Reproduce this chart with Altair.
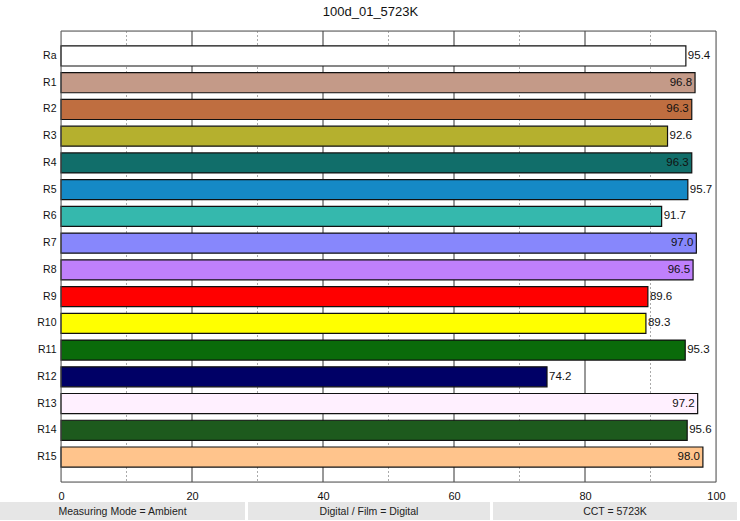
import altair as alt
import pandas as pd

title_text = "100d_01_5723K"
categories = ["Ra", "R1", "R2", "R3", "R4", "R5", "R6", "R7", "R8", "R9",
              "R10", "R11", "R12", "R13", "R14", "R15"]
values = [95.4, 96.8, 96.3, 92.6, 96.3, 95.7, 91.7, 97.0, 96.5, 89.6,
          89.3, 95.3, 74.2, 97.2, 95.6, 98.0]
colors = ["#ffffff", "#c49a88", "#bf6e40", "#b5b02e", "#116e6a", "#1589c6",
          "#35b8ad", "#8787fc", "#bf80fc", "#ff0000", "#ffff00", "#0a6b0a",
          "#000066", "#fff0ff", "#1d5a1d", "#ffc48c"]
major_grid = [20, 40, 60, 80]
minor_grid = [10, 30, 50, 70, 90]
footer_labels = ["Measuring Mode = Ambient", "Digital / Film = Digital", "CCT = 5723K"]

FONT = "Liberation Sans"

df = pd.DataFrame({"cat": categories, "val": values, "color": colors})
df["label"] = df["val"].map(lambda v: f"{v:.1f}")
df["inside"] = df["val"] > 96

yscale = alt.Scale(domain=categories, paddingInner=0.25, paddingOuter=0.56)
xscale = alt.Scale(domain=[0, 100], nice=False)

base = alt.Chart(df)

minor = alt.Chart(pd.DataFrame({"g": minor_grid})).mark_rule(
    color="#aaaaaa", strokeWidth=1, strokeDash=[2, 2]
).encode(x=alt.X("g:Q", scale=xscale))

major = alt.Chart(pd.DataFrame({"g": major_grid})).mark_rule(
    color="#333333", strokeWidth=1
).encode(x=alt.X("g:Q", scale=xscale))

bars = base.mark_bar(stroke="#111111", strokeWidth=1.2).encode(
    x=alt.X("val:Q", scale=xscale,
            axis=alt.Axis(values=[0, 20, 40, 60, 80, 100], title=None, grid=False,
                          ticks=False, domain=False, labelPadding=8, labelFlush=False,
                          labelFontSize=11, labelColor="#111111", labelFont=FONT)),
    y=alt.Y("cat:N", scale=yscale, sort=categories,
            axis=alt.Axis(title=None, ticks=False, domain=False, labelPadding=5,
                          labelFontSize=10.5, labelColor="#111111", labelFont=FONT)),
    color=alt.Color("color:N", scale=None),
)

text_in = base.transform_filter("datum.inside").mark_text(
    align="right", baseline="middle", dx=-3, fontSize=11.5, font=FONT, color="#111111"
).encode(x=alt.X("val:Q", scale=xscale), y=alt.Y("cat:N", scale=yscale, sort=categories),
         text="label:N")

text_out = base.transform_filter("!datum.inside").mark_text(
    align="left", baseline="middle", dx=2, fontSize=11.5, font=FONT, color="#111111"
).encode(x=alt.X("val:Q", scale=xscale), y=alt.Y("cat:N", scale=yscale, sort=categories),
         text="label:N")

# plot frame
frame = alt.Chart(pd.DataFrame({"t": [0]})).mark_rect(
    filled=False, stroke="#555555", strokeWidth=1
).encode(x=alt.value(0), x2=alt.value(655), y=alt.value(0), y2=alt.value(451))

# footer boxes (page chrome)
footer_layers = []
box_x = [(-61, 184), (187, 429), (432, 676)]
for lab, (x0, x1) in zip(footer_labels, box_x):
    fd = pd.DataFrame({"t": [lab]})
    footer_layers.append(
        alt.Chart(fd).mark_rect(color="#e6e6e6", clip=False).encode(
            x=alt.value(x0), x2=alt.value(x1), y=alt.value(471), y2=alt.value(489))
    )
    footer_layers.append(
        alt.Chart(fd).mark_text(fontSize=10.5, font=FONT, color="#222222",
                                baseline="middle", align="center").encode(
            x=alt.value((x0 + x1) / 2), y=alt.value(480.5), text="t:N")
    )

chart = alt.layer(minor, major, bars, text_in, text_out, frame, *footer_layers).properties(
    width=655, height=451,
    title=alt.TitleParams(title_text, fontSize=13, font=FONT, fontWeight="normal",
                          anchor="middle", dx=-18, offset=12, color="#111111"),
    autosize=alt.AutoSizeParams(type="none"),
    padding={"left": 61, "top": 31, "right": 24, "bottom": 39},
).configure_view(stroke="#555555", strokeWidth=1).configure(background="white")

chart.save("out.html", embed_options={"renderer": "svg", "actions": False})
